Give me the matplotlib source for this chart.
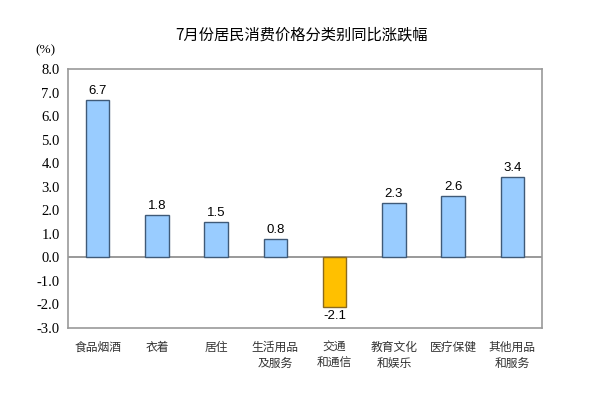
import numpy as np
import matplotlib.pyplot as plt
from matplotlib import font_manager

plt.rcParams['font.family'] = ['Noto Sans CJK SC', 'DejaVu Sans']

# categories and year-on-year change (%)
categories = ['食品烟酒', '衣着', '居住', '生活用品\n及服务', '交通\n和通信',
              '教育文化\n和娱乐', '医疗保健', '其他用品\n和服务']
values = [6.7, 1.8, 1.5, 0.8, -2.1, 2.3, 2.6, 3.4]
yticks = np.arange(-3.0, 8.1, 1.0)

serif = font_manager.FontProperties(family='Liberation Serif', size=10.5)
print(font_manager.findfont(serif))

fig = plt.figure(figsize=(5.96, 3.95), dpi=100)
ax = fig.add_axes([68 / 596, 1 - 328 / 395, 474 / 596, 259 / 395])

x = np.arange(len(categories))
colors = ['#99CCFF' if v >= 0 else '#FFC000' for v in values]
edges = ['#3F5A78' if v >= 0 else '#8A6A20' for v in values]
ax.bar(x, values, width=0.4, color=colors, edgecolor=edges, linewidth=1.0, zorder=3)

for xi, v in zip(x, values):
    if v >= 0:
        ax.text(xi, v + 0.12, f'{v:.1f}', ha='center', va='bottom', fontsize=9.5,
                family='Liberation Sans')
    else:
        ax.text(xi, v - 0.12, f'{v:.1f}', ha='center', va='top', fontsize=9.5,
                family='Liberation Sans')

ax.axhline(0, color='#888888', linewidth=1.2, zorder=2)
ax.set_xlim(-0.5, len(categories) - 0.5)
ax.set_ylim(-3.0, 8.0)
ax.set_yticks(yticks)
ax.set_yticklabels([f'{t:.1f}' for t in yticks], fontproperties=serif)
ax.set_xticks(x)
ax.set_xticklabels(categories, fontsize=8.5, color='#333333', linespacing=1.3)
ax.tick_params(length=0, pad=6)
ax.tick_params(axis='x', pad=9)
for s in ax.spines.values():
    s.set_color('#999999')
    s.set_linewidth(1.2)

fig.text(45 / 596, 1 - 50 / 395, '(%)', ha='center', va='center',
         fontproperties=font_manager.FontProperties(family='Liberation Serif', size=9.5))
fig.text(302 / 596, 1 - 35 / 395, '7月份居民消费价格分类别同比涨跌幅',
         ha='center', va='center', fontsize=11, fontweight='medium')

fig.savefig('out.png', dpi=100)
